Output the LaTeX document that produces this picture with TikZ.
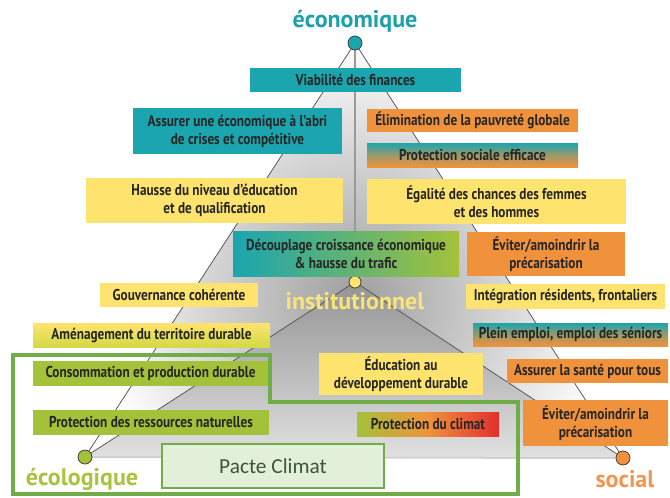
\documentclass[tikz,border=0pt]{standalone}
\usepackage{fontspec}
\setmainfont{PT Sans}[FakeStretch=0.84]
\newfontfamily\polefont{PT Sans}
\newfontfamily\pactefont{Carlito}
\usetikzlibrary{backgrounds}

\definecolor{tealbox}{RGB}{27,165,175}
\definecolor{orangebox}{RGB}{240,146,60}
\definecolor{yellowbox}{RGB}{254,228,110}
\definecolor{greenbox}{RGB}{164,193,58}
\definecolor{limebox}{RGB}{212,216,70}
\definecolor{climred}{RGB}{226,46,46}
\definecolor{pactegreen}{RGB}{112,173,71}
\definecolor{pactefill}{RGB}{226,240,217}
\definecolor{pactetext}{RGB}{62,84,62}
\definecolor{ecotext}{RGB}{30,160,172}
\definecolor{insttext}{RGB}{248,228,120}
\definecolor{soctext}{RGB}{240,150,80}
\definecolor{ecoltext}{RGB}{168,195,62}

\begin{document}
\begin{tikzpicture}[x=0.75pt,y=0.75pt,yscale=-1,xscale=1,
  dot/.style={circle,draw=black!75,line width=0.6pt,minimum size=10.5pt,inner sep=0pt},
  pole/.style={font=\polefont\bfseries\fontsize{18}{20}\selectfont,inner sep=0pt},
  box/.style={inner sep=0pt,align=center,font=\bfseries\fontsize{11.8}{13.5}\selectfont,text=black!85},
  tealbox/.style={box,fill=tealbox},
  orangebox/.style={box,fill=orangebox},
  yellowbox/.style={box,fill=yellowbox},
  greenbox/.style={box,fill=greenbox},
  mixbox/.style={box,top color=tealbox,bottom color=orangebox,middle color=orangebox!60!tealbox},
  edge/.style={draw=black!65,line width=0.6pt}
]
\useasboundingbox (0,0) rectangle (670,497);

%Shape: Circle
\node[dot,fill=tealbox] (eco) at (355,43) {};
%Shape: Circle
\node[dot,fill=yellowbox,minimum size=9pt] (inst) at (355,282) {};
%Shape: Circle
\node[dot,fill=greenbox] (ecol) at (85,457) {};
%Shape: Circle
\node[dot,fill=orangebox] (soc) at (623,458) {};

\begin{scope}[on background layer]
  \begin{scope}
    \clip (eco.center) -- (ecol.center) -- (soc.center) -- cycle;
    \shade[inner color=black!38,outer color=white] (355,300) circle (260);
    \shade[top color=black!42,bottom color=black!12] (inst.center) -- (ecol.center) -- (soc.center) -- cycle;
  \end{scope}
  %Straight Lines
  \draw[edge] (eco) -- (ecol);
  \draw[edge] (eco) -- (soc);
  \draw[edge] (inst) -- (ecol);
  \draw[edge] (inst) -- (soc);
  \draw[draw=black!40,line width=1.5pt] (eco) -- (inst);
  \draw[draw=black!18,line width=1.5pt] (ecol) -- (soc);
\end{scope}

%Shape: Rectangle
\node[tealbox,minimum width=158.25pt,minimum height=18pt] (viab) at (355.5,80) {Viabilité des finances};
\node[tealbox,minimum width=156.75pt,minimum height=34.5pt] (abri) at (237.5,131) {Assurer une économique à l’abri\\de crises et compétitive};
\node[orangebox,minimum width=158.25pt,minimum height=17.25pt] (pauv) at (472.5,120.5) {Élimination de la pauvreté globale};
\node[mixbox,minimum width=158.25pt,minimum height=18pt] (protsoc) at (472.5,155) {Protection sociale efficace};
\node[yellowbox,minimum width=192.75pt,minimum height=33.75pt] (hausse) at (214.5,200.5) {Hausse du niveau d’éducation\\et de qualification};
\node[yellowbox,minimum width=194.25pt,minimum height=33.75pt] (egal) at (496.5,201.5) {Égalité des chances des femmes\\et des hommes};
\node[box,left color=tealbox,right color=greenbox,middle color=tealbox!50!greenbox,minimum width=169.5pt,minimum height=33.75pt] (decoup) at (346,253.5) {Découplage croissance économique\\\& hausse du trafic};
\node[orangebox,minimum width=118.5pt,minimum height=33pt] (precar) at (546,254) {Éviter/amoindrir la\\précarisation};
\node[yellowbox,minimum width=118.5pt,minimum height=18pt] (gouv) at (179,295) {Gouvernance cohérente};
\node[yellowbox,minimum width=149.25pt,minimum height=18.75pt] (integ) at (565.5,296.5) {Intégration résidents, frontaliers};
\node[box,top color=yellowbox,bottom color=limebox,minimum width=177.75pt,minimum height=18pt] (amen) at (151.5,335) {Aménagement du territoire durable};
\node[mixbox,minimum width=146.25pt,minimum height=17.25pt] (emploi) at (570.5,334.5) {Plein emploi, emploi des séniors};
\node[greenbox,minimum width=176.25pt,minimum height=18.75pt] (conso) at (150.5,373.5) {Consommation et production durable};
\node[yellowbox,minimum width=123pt,minimum height=31.5pt] (eddur) at (401,374) {Éducation au\\développement durable};
\node[orangebox,minimum width=120.75pt,minimum height=18pt] (sante) at (587.5,371) {Assurer la santé pour tous};
\node[greenbox,minimum width=177pt,minimum height=18.75pt] (ressour) at (151,422.5) {Protection des ressources naturelles};
\node[box,left color=greenbox,right color=climred,middle color=orangebox,minimum width=106.5pt,minimum height=18pt] (climat) at (428,424) {Protection du climat};
\node[orangebox,minimum width=108.75pt,minimum height=34.5pt] (precarb) at (595.5,423) {Éviter/amoindrir la\\précarisation};

% Text Node
\node[pole,text=ecotext] (lblEco) at (355,21) {économique};
% Text Node
\node[pole,text=insttext] (lblInst) at (355,301) {institutionnel};
% Text Node
\node[pole,text=soctext] (lblSoc) at (625,479) {social};
% Text Node
\node[pole,text=ecoltext] (lblEcol) at (82,479) {écologique};

%Shape: Polygon
\draw[draw=pactegreen,line width=2.4pt] (13,355) -- (270,355) -- (270,402) -- (518,402) -- (518,494) -- (13,494) -- cycle;
%Shape: Rectangle
\node[draw=pactegreen,fill=pactefill,line width=0.9pt,minimum width=166.5pt,minimum height=33pt,font=\pactefont\fontsize{16}{18}\selectfont,text=pactetext] (pacte) at (273,466) {Pacte Climat};
\end{tikzpicture}
\end{document}
